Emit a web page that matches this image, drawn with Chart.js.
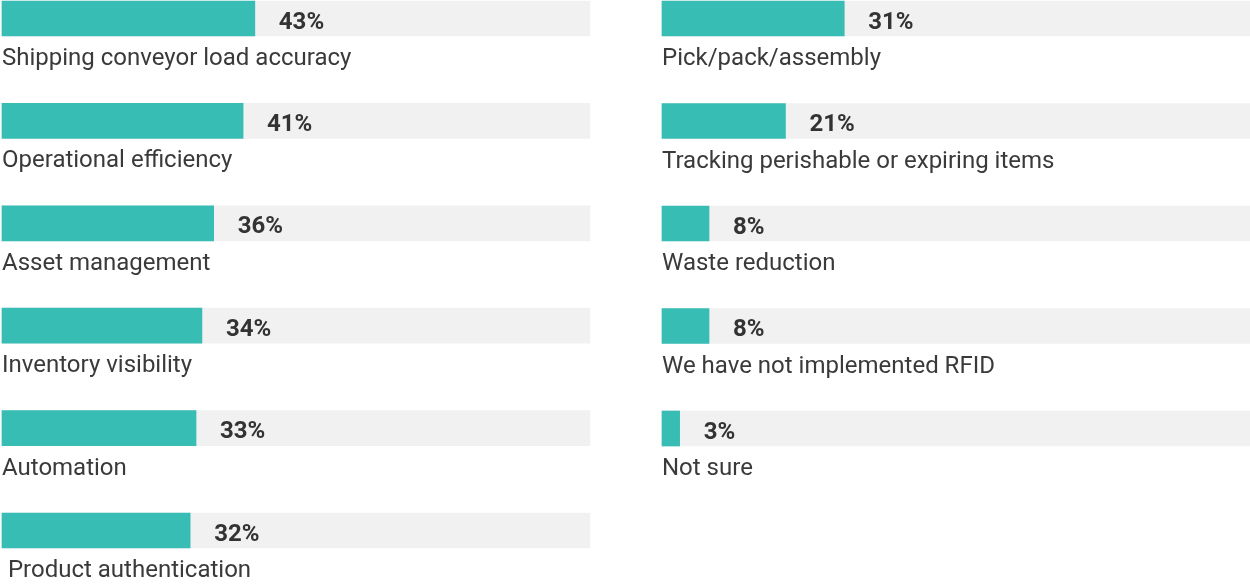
<!DOCTYPE html>
<html>
<head>
<meta charset="utf-8">
<script src="https://cdn.jsdelivr.net/npm/chart.js@4/dist/chart.umd.min.js"></script>
<style>
  body { margin: 0; background: #fff; }
  .col { position: absolute; top: 0; height: 584px; }
  #leftBox { left: 0; width: 600px; }
  #rightBox { left: 660px; width: 590px; }
</style>
</head>
<body>
<div class="col" id="leftBox"><canvas id="leftChart"></canvas></div>
<div class="col" id="rightBox"><canvas id="rightChart"></canvas></div>
<script>
// left column
const leftLabels = [
  "Shipping conveyor load accuracy",
  "Operational efficiency",
  "Asset management",
  "Inventory visibility",
  "Automation",
  " Product authentication"
];
const leftValues = [43, 41, 36, 34, 33, 32];

// right column
const rightLabels = [
  "Pick/pack/assembly",
  "Tracking perishable or expiring items",
  "Waste reduction",
  "We have not implemented RFID",
  "Not sure"
];
const rightValues = [31, 21, 8, 8, 3];

const TEAL = "#38bdb4";
const GRAY = "#f1f1f1";

// labels under each bar + bold value next to the bar end
const rowText = {
  id: "rowText",
  afterDatasetsDraw(chart) {
    const ctx = chart.ctx;
    const meta = chart.getDatasetMeta(0);
    const labels = chart.data.labels;
    const vals = chart.data.datasets[0].data;
    ctx.save();
    ctx.textBaseline = "alphabetic";
    ctx.textAlign = "left";
    meta.data.forEach(function(bar, i) {
      ctx.fillStyle = "#333333";
      ctx.font = "bold 24px Roboto";
      ctx.fillText(vals[i] + "%", bar.x + 24, bar.y + 10);
      ctx.fillStyle = "#3a3a3a";
      ctx.font = "24px Roboto";
      ctx.fillText(labels[i], chart.chartArea.left, bar.y + 46.5);
    });
    ctx.restore();
  }
};

function makeChart(id, labels, values, padRight, padBottom) {
  const bgData = labels.map(function() { return 100; });
  return new Chart(document.getElementById(id), {
    type: "bar",
    data: {
      labels: labels,
      datasets: [
        { data: values, backgroundColor: TEAL, grouped: false, order: 0,
          barThickness: 35, clip: false },
        { data: bgData, backgroundColor: GRAY, grouped: false, order: 1,
          barThickness: 35, clip: false }
      ]
    },
    options: {
      indexAxis: "y",
      responsive: true,
      maintainAspectRatio: false,
      animation: false,
      layout: { padding: { left: 2, right: padRight, top: 18.5, bottom: padBottom } },
      plugins: { legend: { display: false }, tooltip: { enabled: false } },
      scales: {
        x: { display: false, min: 0, max: 100 },
        y: { display: false, offset: false }
      }
    },
    plugins: [rowText]
  });
}

makeChart("leftChart", leftLabels, leftValues, 10, 53.5);
makeChart("rightChart", rightLabels, rightValues, 0, 155.5);
</script>
</body>
</html>
